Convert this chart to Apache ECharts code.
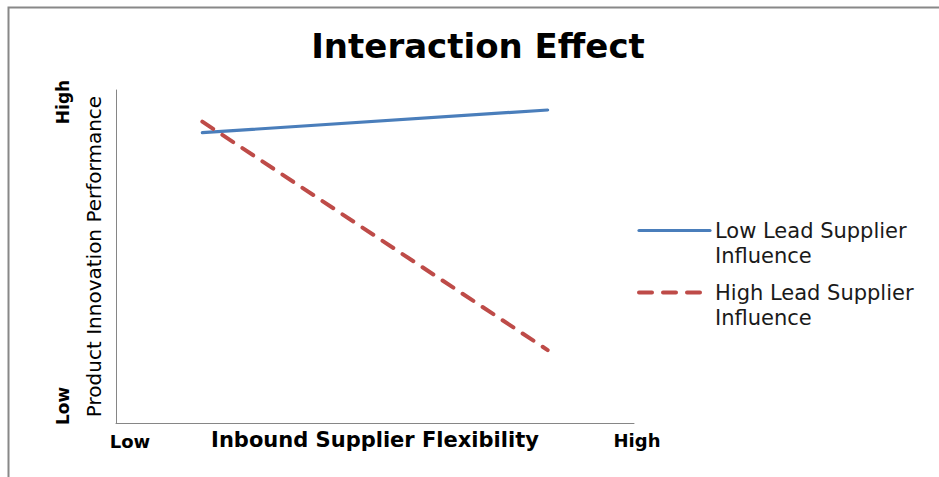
<!DOCTYPE html>
<html>
<head>
<meta charset="utf-8">
<script src="https://cdn.jsdelivr.net/npm/echarts@6/dist/echarts.min.js"></script>
<style>
html, body { margin: 0; padding: 0; background: #fff; }
#chart { width: 939px; height: 477px; }
</style>
</head>
<body>
<div id="chart"></div>
<script>
// data (0..6 on x, 0..10 on y)
var xLevels = [1, 5];
var lowInfluence = [8.72, 9.4];
var highInfluence = [9.05, 2.19];
var seriesNames = ['Low Lead Supplier\nInfluence', 'High Lead Supplier\nInfluence'];
var xTickLabels = ['Low', 'High'];
var yTickLabels = ['Low', 'High'];

var myChart = echarts.init(document.getElementById('chart'), null, { renderer: 'svg' });

var font = '"DejaVu Sans", sans-serif';

var option = {
	backgroundColor: '#fff',
	title: {
		text: 'Interaction Effect',
		left: 473,
		top: 24,
		textAlign: 'center',
		textStyle: { fontFamily: font, fontSize: 34, fontWeight: 'bold', color: '#000' }
	},
	grid: { left: 116, right: 305, top: 90, bottom: 54 },
	legend: {
		orient: 'vertical',
		left: 632,
		top: 188,
		itemWidth: 71,
		itemHeight: 4,
		itemGap: -13,
		itemStyle: { opacity: 0 },
		lineStyle: { width: 'inherit' },
		// leading blank line puts the icon level with the first text line
		formatter: function (name) { return '\n' + name; },
		textStyle: { fontFamily: font, fontSize: 21, color: '#1a1a1a', lineHeight: 25 },
		data: seriesNames
	},
	xAxis: {
		type: 'value', min: 0, max: 6, interval: 6,
		name: 'Inbound Supplier Flexibility',
		nameLocation: 'middle',
		nameGap: 6,
		nameTextStyle: { fontFamily: font, fontSize: 21, fontWeight: 'bold', color: '#000', verticalAlign: 'top' },
		axisLine: { lineStyle: { color: '#868686', width: 1 } },
		axisTick: { show: false },
		axisLabel: { show: false },
		splitLine: { show: false }
	},
	yAxis: {
		type: 'value', min: 0, max: 10,
		name: 'Product Innovation Performance',
		nameLocation: 'middle',
		nameGap: 12,
		nameTextStyle: { fontFamily: font, fontSize: 20, color: '#000' },
		axisLine: { show: true, lineStyle: { color: '#868686', width: 1 } },
		axisTick: { show: false },
		axisLabel: { show: false },
		splitLine: { show: false }
	},
	graphic: [
		{ type: 'rect', left: 6, top: 5, silent: true, z: -1,
		  shape: { width: 1000, height: 1000 },
		  style: { fill: 'none', stroke: '#888', lineWidth: 2 } },
		{ type: 'text', x: 130, y: 441, style: { text: xTickLabels[0], fontFamily: font, fontSize: 18, fontWeight: 'bold', fill: '#000', align: 'center', verticalAlign: 'middle' } },
		{ type: 'text', x: 637, y: 440, style: { text: xTickLabels[1], fontFamily: font, fontSize: 18, fontWeight: 'bold', fill: '#000', align: 'center', verticalAlign: 'middle' } },
		{ type: 'text', x: 63, y: 406, rotation: Math.PI / 2, style: { text: yTickLabels[0], fontFamily: font, fontSize: 17, fontWeight: 'bold', fill: '#000', align: 'center', verticalAlign: 'middle' } },
		{ type: 'text', x: 63, y: 102, rotation: Math.PI / 2, style: { text: yTickLabels[1], fontFamily: font, fontSize: 17, fontWeight: 'bold', fill: '#000', align: 'center', verticalAlign: 'middle' } }
	],
	series: [
		{
			name: seriesNames[0],
			type: 'line',
			symbol: 'none',
			color: '#4A7EBB',
			lineStyle: { width: 3.2, color: '#4A7EBB', cap: 'round' },
			data: xLevels.map(function (x, i) { return [x, lowInfluence[i]]; })
		},
		{
			name: seriesNames[1],
			type: 'line',
			symbol: 'none',
			color: '#BE4B48',
			lineStyle: { width: 4, color: '#BE4B48', type: [13, 11], cap: 'round' },
			data: xLevels.map(function (x, i) { return [x, highInfluence[i]]; })
		}
	]
};
myChart.setOption(option);
</script>
</body>
</html>
